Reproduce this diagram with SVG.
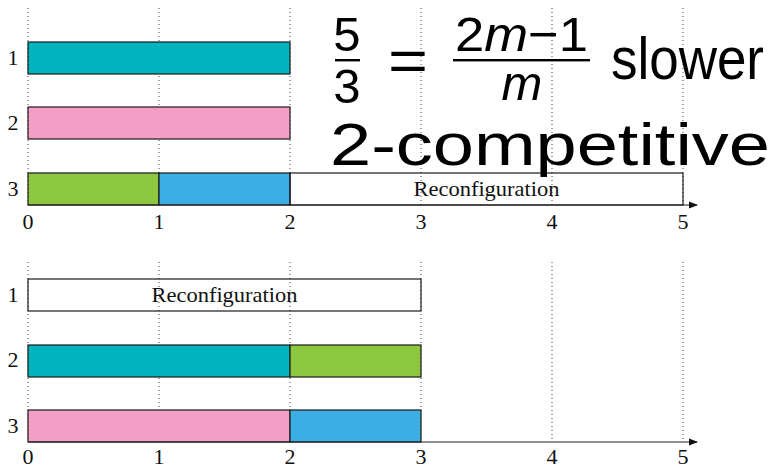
<svg xmlns="http://www.w3.org/2000/svg" width="775" height="465" viewBox="0 0 775 465">
<defs>
<style>
.grid{stroke:#444;stroke-width:1;stroke-dasharray:1 3;fill:none}
.bar{stroke:#1a1a1a;stroke-width:1.2}
.axis{stroke:#222;stroke-width:1.2;fill:none}
.lbl{font-family:"Liberation Serif","DejaVu Serif",serif;font-size:22px;fill:#111;text-anchor:middle}
.rc{font-family:"Liberation Serif","DejaVu Serif",serif;font-size:21px;fill:#111;text-anchor:middle}
.math{font-family:"Liberation Sans","DejaVu Sans",sans-serif;fill:#000}
.teal{fill:#00B4BE}.pink{fill:#F49DC6}.green{fill:#8DC63F}.blue{fill:#3DAEE3}.none{fill:none}
</style>
<marker id="arr" markerWidth="10" markerHeight="8" refX="8" refY="4" orient="auto" markerUnits="userSpaceOnUse">
<path d="M0,0.5 L9,4 L0,7.5 Z" fill="#111"/>
</marker>
</defs>

<g id="grid-top">
<path class="grid" d="M28,8V205M159,8V205M290,8V205M421,8V205M552,8V205M683,8V205"/>
</g>
<g id="grid-bottom">
<path class="grid" d="M28,262V442M159,262V442M290,262V442M421,262V442M552,262V442M683,262V442"/>
</g>

<g id="top-chart">
<g id="t-row1"><rect class="bar teal" x="28" y="42" width="262" height="32"/></g>
<g id="t-row2"><rect class="bar pink" x="28" y="107" width="262" height="32"/></g>
<g id="t-row3">
<rect class="bar green" x="28" y="173" width="131" height="32"/>
<rect class="bar blue" x="159" y="173" width="131" height="32"/>
<rect class="bar none" x="290" y="173" width="393" height="32"/>
<text class="rc" x="486.5" y="195.5" textLength="146" lengthAdjust="spacingAndGlyphs">Reconfiguration</text>
</g>
<g id="t-labels">
<text class="lbl" x="13" y="65">1</text>
<text class="lbl" x="13" y="130">2</text>
<text class="lbl" x="13" y="196">3</text>
<text class="lbl" x="28" y="229">0</text>
<text class="lbl" x="159" y="229">1</text>
<text class="lbl" x="290" y="229">2</text>
<text class="lbl" x="421" y="229">3</text>
<text class="lbl" x="552" y="229">4</text>
<text class="lbl" x="683" y="229">5</text>
</g>
</g>

<g id="bottom-chart">
<g id="b-row1">
<rect class="bar none" x="28" y="279" width="393" height="32"/>
<text class="rc" x="224.5" y="301.5" textLength="146" lengthAdjust="spacingAndGlyphs">Reconfiguration</text>
</g>
<g id="b-row2">
<rect class="bar teal" x="28" y="345" width="262" height="32"/>
<rect class="bar green" x="290" y="345" width="131" height="32"/>
</g>
<g id="b-row3">
<rect class="bar pink" x="28" y="410" width="262" height="32"/>
<rect class="bar blue" x="290" y="410" width="131" height="32"/>
</g>
<g id="b-labels">
<text class="lbl" x="13" y="302">1</text>
<text class="lbl" x="13" y="367">2</text>
<text class="lbl" x="13" y="433">3</text>
<text class="lbl" x="28" y="464">0</text>
<text class="lbl" x="159" y="464">1</text>
<text class="lbl" x="290" y="464">2</text>
<text class="lbl" x="421" y="464">3</text>
<text class="lbl" x="552" y="464">4</text>
<text class="lbl" x="683" y="464">5</text>
</g>
</g>

<g id="connectors">
<line class="axis" x1="28" y1="205" x2="697" y2="205" marker-end="url(#arr)"/>
<line class="axis" x1="28" y1="442" x2="697" y2="442" marker-end="url(#arr)"/>
</g>

<g id="formula">
<text class="math" x="347" y="51" font-size="49" text-anchor="middle">5</text>
<rect x="335" y="59" width="25" height="2.4" fill="#000"/>
<text class="math" x="347" y="103" font-size="49" text-anchor="middle">3</text>
<text class="math" x="388" y="81" font-size="60" textLength="40" lengthAdjust="spacingAndGlyphs">=</text>
<text class="math" x="455" y="51" font-size="49" textLength="133" lengthAdjust="spacingAndGlyphs">2<tspan font-style="italic">m</tspan>−1</text>
<rect x="453" y="59" width="137" height="2.4" fill="#000"/>
<text class="math" x="522" y="100" font-size="49" font-style="italic" text-anchor="middle">m</text>
<text class="math" x="611" y="79" font-size="60" textLength="153" lengthAdjust="spacingAndGlyphs">slower</text>
</g>
<g id="title">
<text class="math" x="330" y="165" font-size="59" textLength="440" lengthAdjust="spacingAndGlyphs">2-competitive</text>
</g>
</svg>
